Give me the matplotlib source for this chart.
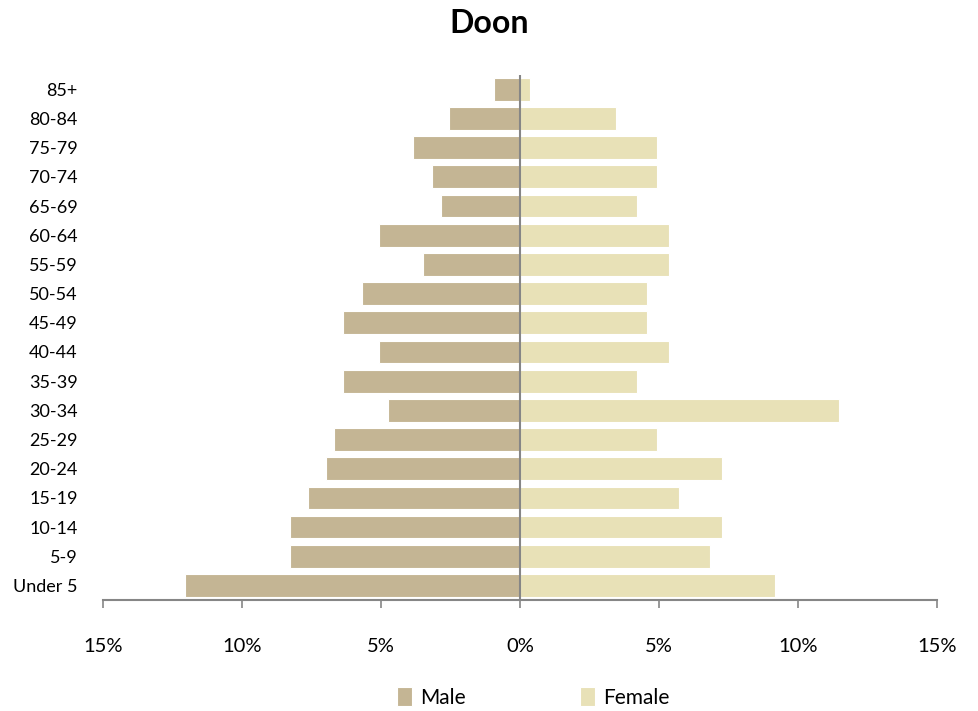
import numpy as np
import matplotlib.pyplot as plt
from matplotlib.ticker import FuncFormatter

plt.rcParams['font.family'] = ['Lato', 'DejaVu Sans']

ages = ['Under 5', '5-9', '10-14', '15-19', '20-24', '25-29', '30-34', '35-39',
        '40-44', '45-49', '50-54', '55-59', '60-64', '65-69', '70-74', '75-79',
        '80-84', '85+']
male = [12.05, 8.27, 8.27, 7.63, 6.98, 6.69, 4.75, 6.37, 5.07, 6.37, 5.68,
        3.49, 5.07, 2.84, 3.17, 3.85, 2.55, 0.94]
female = [9.17, 6.83, 7.27, 5.72, 7.27, 4.93, 11.47, 4.21, 5.36, 4.57, 4.57,
          5.36, 5.36, 4.21, 4.93, 4.93, 3.45, 0.36]

fig = plt.figure(figsize=(9.79, 7.11), dpi=100)
ax = fig.add_axes([0.105, 0.156, 0.852, 0.739])

y = np.arange(len(ages))
ax.barh(y, -np.array(male), height=0.78, color='#c4b594', edgecolor='white',
        linewidth=0.8, label='Male')
ax.barh(y, female, height=0.78, color='#e8e1b7', edgecolor='white',
        linewidth=0.8, label='Female')
ax.axvline(0, color='#868686', lw=1.5)

ax.set_xlim(-15, 15)
ax.set_ylim(-0.5, len(ages) - 0.5)
ax.set_xticks([-15, -10, -5, 0, 5, 10, 15])
ax.xaxis.set_major_formatter(FuncFormatter(lambda v, p: f'{abs(v):.0f}%'))
ax.set_yticks(y)
ax.set_yticklabels(ages)
ax.tick_params(axis='y', length=0, labelsize=13, pad=18)
ax.tick_params(axis='x', length=6, width=1.2, color='#868686', labelsize=14.5, pad=21)

for s in ['top', 'right', 'left']:
    ax.spines[s].set_visible(False)
ax.spines['bottom'].set_color('#868686')
ax.spines['bottom'].set_linewidth(1.5)

fig.suptitle('Doon', fontsize=23, fontweight='bold', y=0.988)
fig.legend(loc='lower center', ncol=2, frameon=False, fontsize=15,
           bbox_to_anchor=(0.545, -0.022), handlelength=0.7, handleheight=1.0,
           handletextpad=0.4, columnspacing=5.5)

fig.savefig('out.png')
